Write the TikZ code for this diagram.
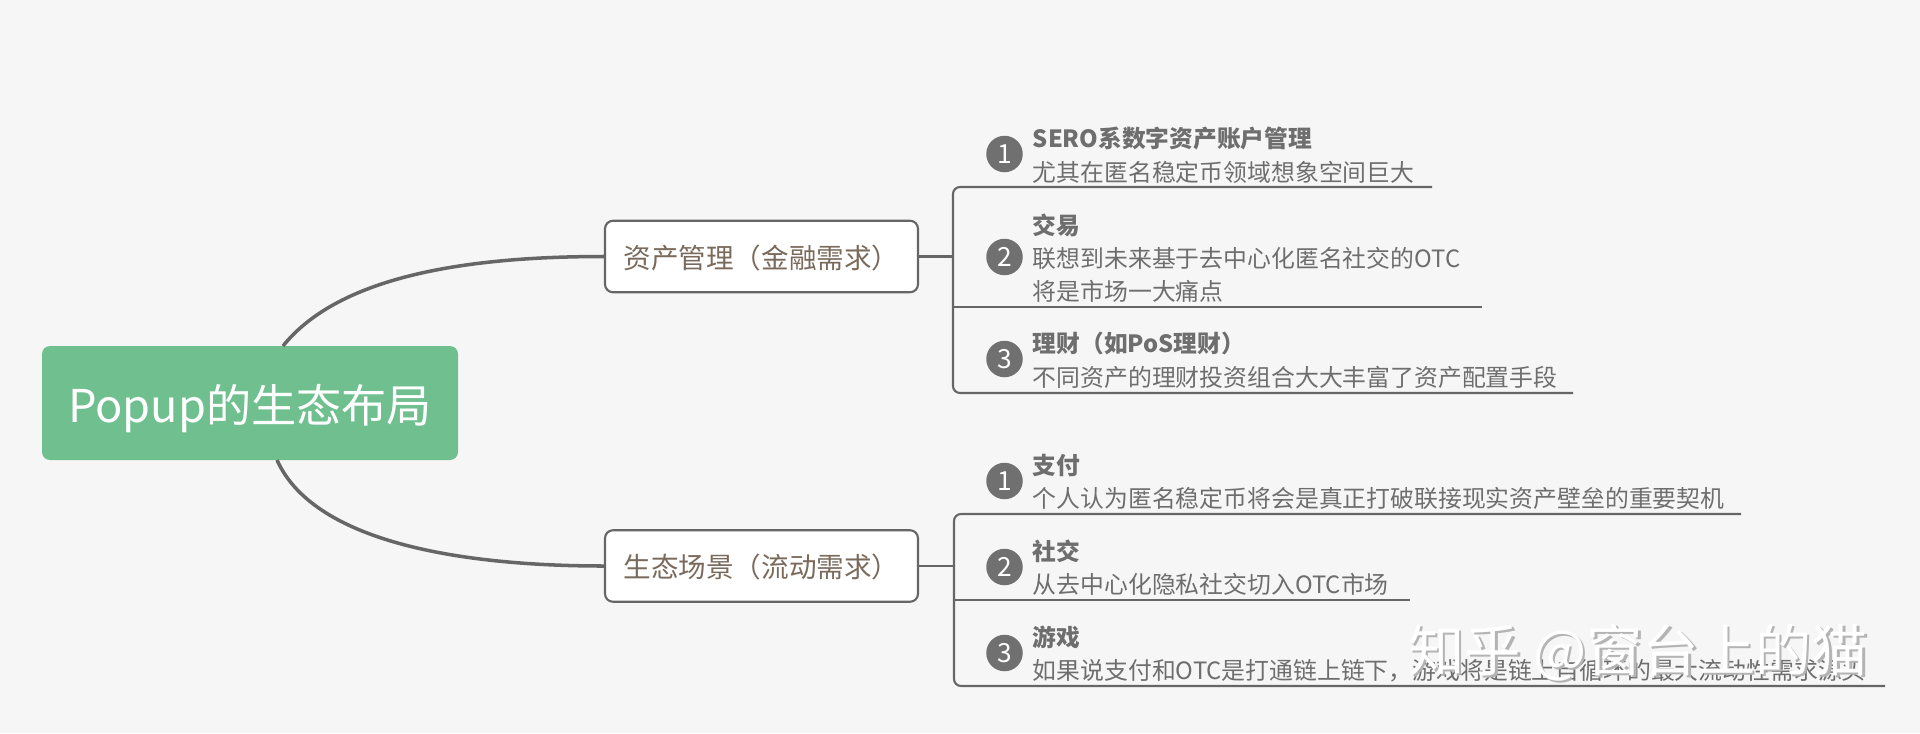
\documentclass[tikz,border=0pt]{standalone}
\usepackage{fontspec}
\setmainfont{Noto Sans CJK SC}
\definecolor{paper}{HTML}{F6F6F6}
\definecolor{rootgreen}{HTML}{70C08F}
\definecolor{wire}{HTML}{666666}
\definecolor{dotgrey}{HTML}{707070}
\definecolor{boxtext}{HTML}{7A6A5C}
\definecolor{leaftext}{HTML}{6E6E6E}
\definecolor{ghost}{HTML}{B4B4B4}
\tikzset{
	rootbox/.style={shape=rectangle, fill=rootgreen, rounded corners=0.16cm, minimum width=8.32cm, minimum height=2.28cm, text=white, font=\fontsize{25.7}{30}\selectfont},
	areabox/.style={shape=rectangle, draw=wire, fill=white, line width=1.2pt, rounded corners=0.16cm, minimum width=6.26cm, minimum height=1.43cm, text=boxtext, font=\fontsize{15.7}{20}\selectfont},
	badge/.style={shape=circle, fill=dotgrey, minimum size=0.73cm, inner sep=0pt, text=white, font=\fontsize{15}{18}\selectfont},
	leafhead/.style={anchor=west, inner sep=0pt, text=leaftext, font=\bfseries\fontsize{13.5}{16}\selectfont},
	leafline/.style={anchor=west, inner sep=0pt, text=leaftext, font=\fontsize{13.57}{16}\selectfont},
	limb/.style={draw=wire, line width=2pt},
	twig/.style={draw=wire, line width=1.2pt},
	stamp/.style={inner sep=0pt, font=\fontsize{32}{36}\selectfont},
}
\begin{document}
\begin{tikzpicture}
	\fill[paper] (0,0) rectangle (38.4,-14.66);
	\useasboundingbox (0,0) rectangle (38.4,-14.66);

	\node[rootbox] (root) at (5,-8.06) {\raisebox{-0.38cm}[0pt][0pt]{Popup的生态布局}};
	\node[areabox] (asset) at (15.23,-5.13) {\raisebox{-0.23cm}[0pt][0pt]{资产管理（金融需求）}};
	\node[areabox] (scene) at (15.23,-11.32) {\raisebox{-0.23cm}[0pt][0pt]{生态场景（流动需求）}};

	\coordinate (rootup) at (5.66,-6.92);
	\coordinate (rootdown) at (5.54,-9.2);
	\path [limb] (rootup) .. controls (6.8,-5.5) and (9.4,-5.13) .. (asset.west);
	\path [limb] (rootdown) .. controls (6.3,-10.9) and (9.4,-11.32) .. (scene.west);

	% upper group
	\coordinate (a0) at (19.06,-5.13);
	\coordinate (a1) at (19.06,-3.74);
	\coordinate (a2) at (19.06,-6.14);
	\coordinate (a3) at (19.06,-7.86);
	\coordinate (a1end) at (28.64,-3.74);
	\coordinate (a2end) at (29.64,-6.14);
	\coordinate (a3end) at (31.46,-7.86);
	\path [twig] (asset.east) -- (a0);
	\path [twig] (a2) edge (a2end);
	\path [twig, rounded corners=0.14cm] (a1end) -- (a1) -- (a3) -- (a3end);

	\node[badge] (a1dot) at (20.09,-3.08) {1};
	\node[badge] (a2dot) at (20.09,-5.14) {2};
	\node[badge] (a3dot) at (20.09,-7.18) {3};
	\node[leafhead] (a1head) at (20.65,-2.77) {SERO系数字资产账户管理};
	\node[leafline] (a1text) at (20.65,-3.45) {尤其在匿名稳定币领域想象空间巨大};
	\node[leafhead] (a2head) at (20.65,-4.51) {交易};
	\node[leafline] (a2text) at (20.65,-5.16) {联想到未来基于去中心化匿名社交的OTC};
	\node[leafline] (a2more) at (20.65,-5.82) {将是市场一大痛点};
	\node[leafhead] (a3head) at (20.65,-6.87) {理财（如PoS理财）};
	\node[leafline] (a3text) at (20.65,-7.55) {不同资产的理财投资组合大大丰富了资产配置手段};

	% lower group
	\coordinate (s0) at (19.08,-11.32);
	\coordinate (s1) at (19.08,-10.28);
	\coordinate (s2) at (19.08,-12);
	\coordinate (s3) at (19.08,-13.72);
	\coordinate (s1end) at (34.82,-10.28);
	\coordinate (s2end) at (28.2,-12);
	\coordinate (s3end) at (37.7,-13.72);
	\path [twig] (scene.east) -- (s0);
	\path [twig] (s2) edge (s2end);
	\path [twig, rounded corners=0.14cm] (s1end) -- (s1) -- (s3) -- (s3end);

	\node[badge] (s1dot) at (20.09,-9.62) {1};
	\node[badge] (s2dot) at (20.09,-11.34) {2};
	\node[badge] (s3dot) at (20.09,-13.06) {3};
	\node[leafhead] (s1head) at (20.65,-9.31) {支付};
	\node[leafline] (s1text) at (20.65,-9.97) {个人认为匿名稳定币将会是真正打破联接现实资产壁垒的重要契机};
	\node[leafhead] (s2head) at (20.65,-11.03) {社交};
	\node[leafline] (s2text) at (20.65,-11.69) {从去中心化隐私社交切入OTC市场};
	\node[leafhead] (s3head) at (20.65,-12.75) {游戏};
	\node[leafline] (s3text) at (20.65,-13.41) {如果说支付和OTC是打通链上链下，游戏将是链上自循环的最大流动性需求源头};

	\node[stamp, text=ghost] (stampshade) at (32.81,-13.1) {知乎 @窗台上的猫};
	\node[stamp, text=white] (stampface) at (32.76,-13.05) {知乎 @窗台上的猫};
\end{tikzpicture}
\end{document}
